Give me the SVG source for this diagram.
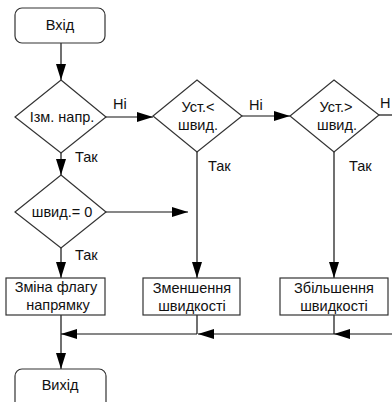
<svg xmlns="http://www.w3.org/2000/svg" width="392" height="402" viewBox="0 0 392 402">
<defs>
<style>
.t{font-family:"Liberation Sans",Arial,sans-serif;font-size:14.5px;fill:#111;text-anchor:middle}
.l{font-family:"Liberation Sans",Arial,sans-serif;font-size:14.5px;fill:#111}
.s{fill:#fff;stroke:#333;stroke-width:1.2}
.c{fill:none;stroke:#111;stroke-width:1.2}
</style>
<marker id="a" markerUnits="userSpaceOnUse" markerWidth="17" markerHeight="11" refX="16" refY="5" orient="auto">
<path d="M0,0 L16,5 L0,10 z" fill="#000"/>
</marker>
</defs>
<rect width="392" height="402" fill="#fff"/>
<g id="connectors">
<path class="c" d="M61,43 V80" marker-end="url(#a)"/>
<path class="c" d="M106,117 H153" marker-end="url(#a)"/>
<path class="c" d="M242,116 H290" marker-end="url(#a)"/>
<path class="c" d="M379,115 H392"/>
<path class="c" d="M61,153 V175" marker-end="url(#a)"/>
<path class="c" d="M106,212 H188" marker-end="url(#a)"/>
<path class="c" d="M61,248 V278" marker-end="url(#a)"/>
<path class="c" d="M197,152 V278" marker-end="url(#a)"/>
<path class="c" d="M334,152 V278" marker-end="url(#a)"/>
<path class="c" d="M334,315 V334"/>
<path class="c" d="M392,334 H334" marker-end="url(#a)"/>
<path class="c" d="M197,315 V334"/>
<path class="c" d="M334,334 H198" marker-end="url(#a)"/>
<path class="c" d="M197,334 H61" marker-end="url(#a)"/>
<path class="c" d="M61,315 V369" marker-end="url(#a)"/>
<text class="l" x="113" y="109">Ні</text>
<text class="l" x="249" y="110">Ні</text>
<text class="l" x="380" y="108">Н</text>
<text class="l" x="75" y="162">Так</text>
<text class="l" x="208" y="171">Так</text>
<text class="l" x="349" y="171">Так</text>
<text class="l" x="75" y="260">Так</text>
</g>
<g id="start">
<rect class="s" x="15" y="8" width="90" height="35" rx="7"/>
<text class="t" x="60" y="30">Вхід</text>
</g>
<g id="d1">
<polygon class="s" points="61,80 106,117 61,153 15,117"/>
<text class="t" x="62" y="122">Ізм. напр.</text>
</g>
<g id="d2">
<polygon class="s" points="197,80 242,116 197,152 153,116"/>
<text class="t" x="198" y="112">Уст.&lt;</text>
<text class="t" x="198" y="130">швид.</text>
</g>
<g id="d3">
<polygon class="s" points="334,80 379,115 334,152 290,116"/>
<text class="t" x="336" y="112">Уст.&gt;</text>
<text class="t" x="337" y="130">швид.</text>
</g>
<g id="d4">
<polygon class="s" points="61,175 106,212 61,248 15,212"/>
<text class="t" x="62" y="217">швид.= 0</text>
</g>
<g id="b1">
<rect class="s" x="6" y="278" width="99" height="37"/>
<text class="t" x="56" y="292">Зміна флагу</text>
<text class="t" x="58" y="310">напрямку</text>
</g>
<g id="b2">
<rect class="s" x="143" y="278" width="97" height="37"/>
<text class="t" x="192" y="293">Зменшення</text>
<text class="t" x="192" y="311">швидкості</text>
</g>
<g id="b3">
<rect class="s" x="280" y="278" width="108" height="37"/>
<text class="t" x="334" y="293">Збільшення</text>
<text class="t" x="334" y="311">швидкості</text>
</g>
<g id="end">
<rect class="s" x="15" y="369" width="91" height="40" rx="7"/>
<text class="t" x="60" y="390">Вихід</text>
</g>
</svg>
